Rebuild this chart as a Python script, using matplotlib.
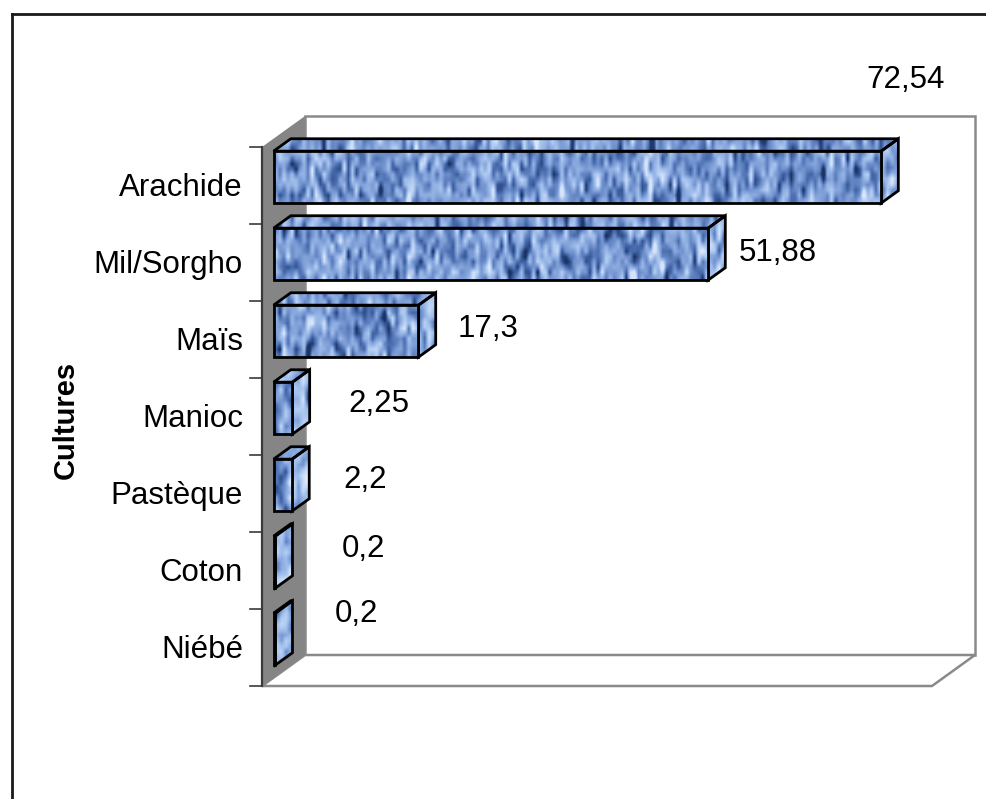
import numpy as np
import matplotlib
matplotlib.use("Agg")
import matplotlib.pyplot as plt
from matplotlib.patches import Polygon
from matplotlib.lines import Line2D
from matplotlib.colors import LinearSegmentedColormap
from matplotlib.transforms import offset_copy

# Data (bottom to top)
cultures = ["Niébé", "Coton", "Pastèque", "Manioc", "Maïs", "Mil/Sorgho", "Arachide"]
valeurs = [0.2, 0.2, 2.2, 2.25, 17.3, 51.88, 72.54]
etiquettes = ["0,2", "0,2", "2,2", "2,25", "17,3", "51,88", "72,54"]
titre_axe = "Cultures"
x_max = 80

# Label placement (pixel offsets from the end of each bar)
decalages = [(81, 17), (88, 5), (73, -3), (86, -4), (70, -6), (70, -7), (24, 89)]

plt.rcParams["font.family"] = ["Liberation Sans", "DejaVu Sans"]

W, H = 986, 799
fig = plt.figure(figsize=(W / 100, H / 100), dpi=100)
fig.patch.set_facecolor("white")

# Front plane of the plot box, in pixels
X0, X1 = 262, 932
Y_BOT, Y_TOP = 686, 147
n = len(cultures)
sx = (X1 - X0) / x_max
sy = (Y_BOT - Y_TOP) / n

ax = fig.add_axes([0, 0, 1, 1])
ax.axis("off")

# Oblique projection for depth
DX = 43 / sx
DY = 31 / sy


def proj(v, c, d):
    return (v + d * DX, c + d * DY)


c_lo, c_hi = -0.5, n - 0.5
wall_grey = "#8a8a8a"

# Back wall
back = [proj(0, c_lo, 1), proj(x_max, c_lo, 1), proj(x_max, c_hi, 1), proj(0, c_hi, 1)]
ax.add_patch(Polygon(back, closed=True, fc="white", ec=wall_grey, lw=1.8, zorder=1))
# Floor
floor = [proj(0, c_lo, 0), proj(x_max, c_lo, 0), proj(x_max, c_lo, 1), proj(0, c_lo, 1)]
ax.add_patch(Polygon(floor, closed=True, fc="white", ec=wall_grey, lw=1.8, zorder=1))
# Side wall
side = [proj(0, c_lo, 0), proj(0, c_lo, 1), proj(0, c_hi, 1), proj(0, c_hi, 0)]
ax.add_patch(Polygon(side, closed=True, fc="#858585", ec="none", zorder=2))
# Category axis line and tick marks
ax.add_line(Line2D([0, 0], [c_lo, c_hi], color="#3a3a3a", lw=1.6, zorder=3))
tick_len = 12 / sx
for k in range(n + 1):
    ax.add_line(Line2D([-tick_len, 0], [c_lo + k, c_lo + k], color="#3a3a3a", lw=1.2, zorder=3))

# Bar textures
cm_front = LinearSegmentedColormap.from_list(
    "front", ["#1d3566", "#4467a8", "#7697d2", "#a3c0ec", "#d6e4fa"])
cm_top = LinearSegmentedColormap.from_list(
    "top", ["#22396c", "#4a6cae", "#7d9dd6", "#aac6f0", "#dce8fb"])
cm_side = LinearSegmentedColormap.from_list(
    "side", ["#4163a2", "#6d8fcc", "#9ab9e9", "#c0d6f6", "#e5eefc"])

rng = np.random.default_rng(11)


def textured_face(pts, cmap, zorder):
    poly = Polygon(pts, closed=True, fc="none", ec="black", lw=2.0,
                   joinstyle="miter", zorder=zorder + 0.5)
    ax.add_patch(poly)
    xs = [p[0] for p in pts]
    ys = [p[1] for p in pts]
    x0, x1, y0, y1 = min(xs), max(xs), min(ys), max(ys)
    cols = max(2, int((x1 - x0) * sx / 4))
    rows = max(2, int((y1 - y0) * sy / 5))
    z = rng.normal(size=(rows + 2, cols))
    z = (z[:-2] + 2 * z[1:-1] + z[2:]) / 4
    im = ax.imshow(z, cmap=cmap, extent=(x0, x1, y0, y1), aspect="auto",
                   interpolation="bilinear", vmin=-1.35, vmax=1.35,
                   zorder=zorder)
    im.set_clip_path(poly)


D0, D1 = 0.27, 0.67
BH = 0.675

for i, (v, lab, off) in enumerate(zip(valeurs, etiquettes, decalages)):
    c = i
    lo, hi = c - BH / 2, c + BH / 2
    front = [proj(0, lo, D0), proj(v, lo, D0), proj(v, hi, D0), proj(0, hi, D0)]
    top = [proj(0, hi, D0), proj(v, hi, D0), proj(v, hi, D1), proj(0, hi, D1)]
    end = [proj(v, lo, D0), proj(v, hi, D0), proj(v, hi, D1), proj(v, lo, D1)]
    textured_face(top, cm_top, 4)
    textured_face(end, cm_side, 4)
    textured_face(front, cm_front, 5)
    ax.annotate(lab, xy=proj(v, c, D0), xytext=off, textcoords="offset pixels",
                ha="center", va="baseline", fontsize=22.5, color="black", zorder=8)

# Category labels
lab_tr = offset_copy(ax.transData, fig=fig, x=-19, y=-10.5, units="dots")
for i, name in enumerate(cultures):
    ax.text(0, i, name, transform=lab_tr, ha="right", va="baseline",
            fontsize=22.5, color="black")

fig.text(66 / W, 1 - 420 / H, titre_axe, rotation=90, fontweight="bold",
         fontsize=21, ha="center", va="center")

# Outer frame
fig.add_artist(Line2D([12 / W, 12 / W], [0, 1 - 14 / H], transform=fig.transFigure,
                      color="#1a1a1a", lw=2))
fig.add_artist(Line2D([12 / W, 1], [1 - 14 / H, 1 - 14 / H], transform=fig.transFigure,
                      color="#1a1a1a", lw=2))

ax.set_xlim(-X0 / sx, (W - X0) / sx)
ax.set_ylim(-0.5 - (H - Y_BOT) / sy, -0.5 + Y_BOT / sy)

fig.savefig("out.png", dpi=100, facecolor="white")
